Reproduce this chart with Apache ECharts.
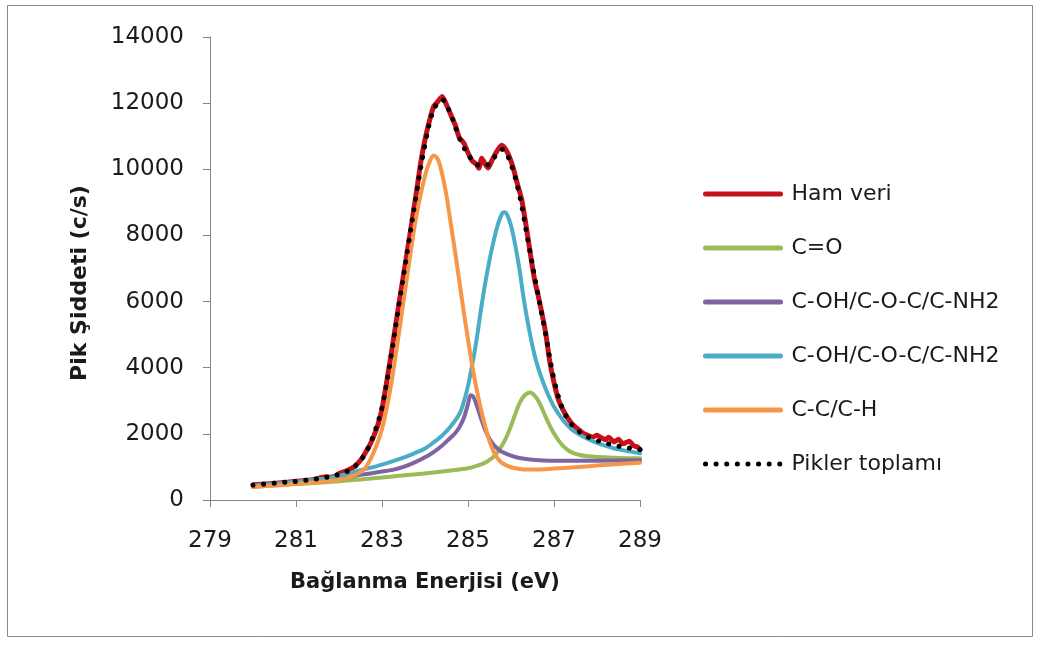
<!DOCTYPE html>
<html>
<head>
<meta charset="utf-8">
<script src="https://cdn.jsdelivr.net/npm/echarts@6/dist/echarts.min.js"></script>
<style>
  html, body { margin: 0; padding: 0; background: #ffffff; }
  #chart { width: 1041px; height: 646px; }
</style>
</head>
<body>
<div id="chart"></div>
<script>
// C 1s XPS spectrum: binding energy (eV) vs. intensity (c/s)
const xTicks = [279, 281, 283, 285, 287, 289];
const yTicks = [0, 2000, 4000, 6000, 8000, 10000, 12000, 14000];

const seriesNames = ['Ham veri', 'C=O', 'C-OH/C-O-C/C-NH2', 'C-OH/C-O-C/C-NH2 ', 'C-C/C-H', 'Pikler toplamı'];

// measured spectrum
const hamVeri = [
  [280.0, 460], [280.2, 475], [280.4, 495], [280.6, 515], [280.8, 540], [281.0, 565],
  [281.2, 590], [281.4, 615], [281.6, 680], [281.7, 700], [281.8, 690], [281.9, 720],
  [282.0, 800], [282.1, 850], [282.2, 900], [282.3, 960], [282.4, 1060], [282.5, 1200],
  [282.6, 1400], [282.7, 1620], [282.8, 1900], [282.9, 2250], [283.0, 2750], [283.1, 3500],
  [283.2, 4300], [283.3, 5140], [283.4, 5980], [283.5, 6800], [283.6, 7620], [283.7, 8450],
  [283.8, 9300], [283.9, 10200], [284.0, 10900], [284.1, 11450], [284.2, 11900], [284.3, 12050],
  [284.4, 12200], [284.5, 11950], [284.6, 11650], [284.7, 11350], [284.8, 10950], [284.9, 10800],
  [285.0, 10500], [285.1, 10250], [285.2, 10150], [285.25, 10030], [285.32, 10330], [285.4, 10150],
  [285.47, 10040], [285.55, 10250], [285.65, 10500], [285.78, 10730], [285.85, 10650], [285.95, 10420],
  [286.05, 10050], [286.15, 9550], [286.25, 9080], [286.35, 8300], [286.45, 7450], [286.55, 6650],
  [286.65, 6080], [286.8, 5100], [286.9, 4200], [287.0, 3550], [287.1, 3050], [287.2, 2750],
  [287.3, 2520], [287.4, 2330], [287.5, 2200], [287.6, 2100], [287.7, 2000], [287.8, 1950],
  [287.9, 1900], [288.0, 1960], [288.1, 1880], [288.2, 1820], [288.27, 1900], [288.4, 1760],
  [288.5, 1840], [288.6, 1700], [288.75, 1780], [288.85, 1640], [288.95, 1600], [289.0, 1520]
];

// fitted components (each drawn on the common background)
const peakCO = [
  [280.0, 400], [280.5, 440], [281.0, 480], [281.5, 520], [282.0, 570], [282.5, 620],
  [283.0, 680], [283.4, 730], [283.8, 780], [284.2, 830], [284.6, 890], [285.0, 960],
  [285.2, 1030], [285.4, 1130], [285.5, 1210], [285.6, 1320], [285.7, 1470], [285.8, 1670],
  [285.9, 1920], [286.0, 2240], [286.1, 2600], [286.2, 2930], [286.3, 3140], [286.4, 3240],
  [286.45, 3250], [286.5, 3220], [286.6, 3070], [286.7, 2830], [286.8, 2530], [286.9, 2250],
  [287.0, 2010], [287.1, 1810], [287.2, 1650], [287.3, 1530], [287.4, 1450], [287.6, 1360],
  [287.8, 1320], [288.0, 1300], [288.5, 1270], [289.0, 1260]
];

const peakCOH1 = [
  [280.0, 420], [280.5, 460], [281.0, 500], [281.5, 560], [282.0, 640], [282.5, 760],
  [283.0, 860], [283.25, 910], [283.5, 1000], [283.75, 1130], [284.0, 1290], [284.2, 1450],
  [284.4, 1650], [284.5, 1770], [284.6, 1890], [284.7, 2020], [284.8, 2200], [284.9, 2470],
  [285.0, 2900], [285.06, 3170], [285.12, 3130], [285.2, 2880], [285.3, 2480], [285.4, 2120],
  [285.5, 1850], [285.6, 1660], [285.7, 1540], [285.8, 1450], [286.0, 1340], [286.2, 1270],
  [286.5, 1220], [287.0, 1190], [288.0, 1190], [289.0, 1200]
];

const peakCOH2 = [
  [280.0, 440], [280.5, 490], [281.0, 550], [281.5, 620], [282.0, 730], [282.5, 900],
  [283.0, 1070], [283.5, 1280], [283.75, 1410], [284.0, 1560], [284.2, 1740], [284.4, 1950],
  [284.6, 2230], [284.8, 2600], [284.9, 2950], [285.0, 3450], [285.1, 4100], [285.2, 4850],
  [285.3, 5750], [285.4, 6550], [285.5, 7250], [285.6, 7850], [285.7, 8350], [285.8, 8680],
  [285.85, 8700], [285.9, 8650], [286.0, 8300], [286.1, 7700], [286.2, 6950], [286.3, 6050],
  [286.4, 5300], [286.5, 4650], [286.6, 4130], [286.7, 3730], [286.8, 3380], [286.9, 3080],
  [287.0, 2820], [287.2, 2430], [287.4, 2150], [287.6, 1970], [287.8, 1840], [288.0, 1730],
  [288.2, 1640], [288.5, 1530], [289.0, 1410]
];

const peakCC = [
  [280.0, 390], [280.5, 440], [281.0, 490], [281.5, 540], [282.0, 610], [282.2, 670],
  [282.4, 770], [282.6, 950], [282.8, 1420], [283.0, 2150], [283.2, 3400], [283.4, 5100],
  [283.6, 6900], [283.8, 8600], [284.0, 9800], [284.1, 10200], [284.2, 10420], [284.3, 10300],
  [284.4, 9850], [284.5, 9200], [284.6, 8350], [284.7, 7500], [284.8, 6600], [284.9, 5700],
  [285.0, 4850], [285.1, 4050], [285.2, 3350], [285.3, 2750], [285.4, 2220], [285.5, 1780],
  [285.6, 1450], [285.7, 1240], [285.8, 1110], [286.0, 990], [286.2, 940], [286.4, 920],
  [286.7, 925], [287.0, 950], [287.5, 990], [288.0, 1040], [288.5, 1090], [289.0, 1130]
];

// sum of the fitted peaks
const pikToplam = [
  [280.0, 450], [280.5, 510], [281.0, 565], [281.5, 640], [282.0, 770], [282.2, 870],
  [282.4, 1050], [282.6, 1380], [282.8, 1950], [283.0, 2800], [283.2, 4250], [283.4, 5950],
  [283.6, 7600], [283.8, 9250], [284.0, 10750], [284.2, 11800], [284.4, 12100], [284.6, 11650],
  [284.8, 10950], [285.0, 10450], [285.2, 10150], [285.4, 10100], [285.6, 10350], [285.8, 10600],
  [286.0, 10150], [286.2, 9200], [286.4, 7800], [286.6, 6400], [286.8, 5050], [287.0, 3650],
  [287.2, 2750], [287.4, 2300], [287.6, 2050], [287.8, 1900], [288.0, 1800], [288.2, 1720],
  [288.4, 1660], [288.6, 1600], [288.8, 1560], [289.0, 1520]
];

const colors = ['#C8101A', '#9BBB59', '#8064A2', '#4BACC6', '#F79646', '#000000'];

const FONT = 'DejaVu Sans';
const chart = echarts.init(document.getElementById('chart'), null, { renderer: 'canvas' });

function lineSeries(name, data, color, width, extra) {
  return Object.assign({
    name: name,
    type: 'line',
    data: data,
    showSymbol: false,
    symbol: 'none',
    smooth: 0.35,
    animation: false,
    lineStyle: { color: color, width: width, cap: 'round', join: 'round' },
    itemStyle: { color: color }
  }, extra || {});
}

const option = {
  backgroundColor: '#ffffff',
  animation: false,
  graphic: [
    {
      type: 'rect',
      shape: { x: 7.5, y: 5.5, width: 1025, height: 631 },
      style: { fill: 'none', stroke: '#8a8a8a', lineWidth: 1 },
      silent: true
    },
    {
      // vertical axis title
      type: 'text',
      x: 80,
      y: 283,
      rotation: Math.PI / 2,
      style: {
        text: 'Pik Şiddeti (c/s)',
        font: 'bold 22px "DejaVu Sans"',
        fill: '#1a1a1a',
        align: 'center',
        verticalAlign: 'middle'
      },
      silent: true
    }
  ],
  grid: { left: 210, right: 401, top: 37, bottom: 146, containLabel: false },
  xAxis: {
    type: 'value',
    min: xTicks[0],
    max: xTicks[xTicks.length - 1],
    interval: xTicks[1] - xTicks[0],
    name: 'Bağlanma Enerjisi (eV)',
    nameLocation: 'middle',
    nameGap: 72,
    nameTextStyle: { fontFamily: FONT, fontSize: 21, fontWeight: 'bold', color: '#1a1a1a' },
    axisLine: { onZero: false, lineStyle: { color: '#868686', width: 1 } },
    axisTick: { show: true, length: 7, lineStyle: { color: '#868686' } },
    axisLabel: { margin: 30, fontFamily: FONT, fontSize: 23, color: '#1a1a1a' },
    splitLine: { show: false }
  },
  yAxis: {
    type: 'value',
    min: yTicks[0],
    max: yTicks[yTicks.length - 1],
    interval: yTicks[1] - yTicks[0],
    axisLine: { show: true, lineStyle: { color: '#868686', width: 1 } },
    axisTick: { show: true, length: 7, lineStyle: { color: '#868686' } },
    axisLabel: {
      margin: 26, fontFamily: FONT, fontSize: 23, color: '#1a1a1a',
      formatter: v => String(v)
    },
    splitLine: { show: false }
  },
  legend: {
    orient: 'vertical',
    left: 698,
    top: 178,
    itemWidth: 75,
    itemHeight: 14,
    itemGap: 32,
    lineStyle: { width: 5 },
    itemStyle: { opacity: 0 },
    textStyle: { fontFamily: FONT, fontSize: 22, color: '#1a1a1a', padding: [0, 0, 0, 6] },
    data: seriesNames.map(n => ({ name: n }))
  },
  series: [
    lineSeries(seriesNames[0], hamVeri, colors[0], 5, { smooth: 0.2 }),
    lineSeries(seriesNames[1], peakCO, colors[1], 4),
    lineSeries(seriesNames[2], peakCOH1, colors[2], 4),
    lineSeries(seriesNames[3], peakCOH2, colors[3], 4),
    lineSeries(seriesNames[4], peakCC, colors[4], 4),
    lineSeries(seriesNames[5], pikToplam, colors[5], 5, {
      lineStyle: { color: colors[5], width: 5, type: [0.1, 10.5], cap: 'round' }
    })
  ]
};

chart.setOption(option);
</script>
</body>
</html>
